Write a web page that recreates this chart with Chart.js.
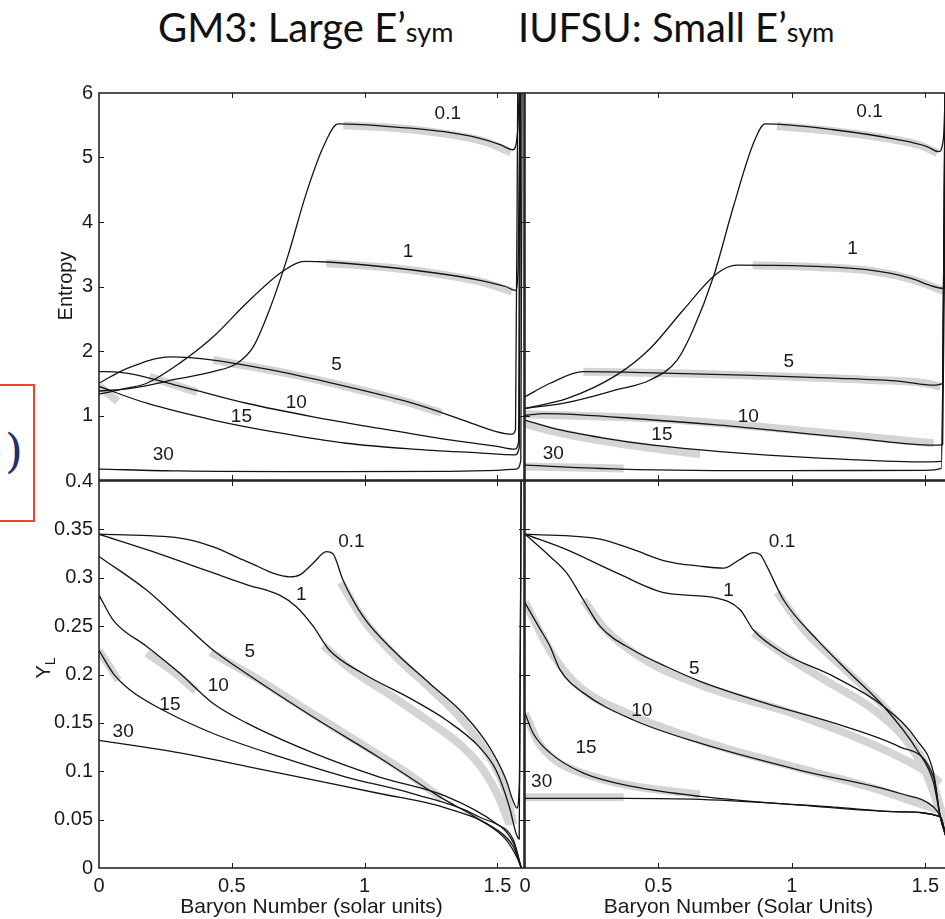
<!DOCTYPE html>
<html>
<head>
<meta charset="utf-8">
<script src="https://cdn.jsdelivr.net/npm/chart.js@4.4.1/dist/chart.umd.min.js"></script>
<style>
  body { margin: 0; width: 945px; height: 919px; overflow: hidden; background: #fff; position: relative; }
  canvas { position: absolute; }
  .title { position: absolute; top: 7px; font-family: Lato, "Open Sans", sans-serif; font-size: 40px; line-height: 40px; color: #111; white-space: nowrap; }
  .title .sub { font-size: 27px; }
  #eqbox { position: absolute; left: -10px; top: 384px; width: 41px; height: 134px; border: 2px solid #f0452b; overflow: hidden; }
  #eqbox span { position: absolute; top: 42px; font-family: "DejaVu Serif", serif; font-size: 46px; line-height: 46px; color: #23306e; }
</style>
</head>
<body>
<div class="title" style="left:158px">GM3: Large E’<span class="sub">sym</span></div>
<div class="title" style="left:518px">IUFSU: Small E’<span class="sub">sym</span></div>
<div id="eqbox"><span style="left:-17px">e</span><span style="left:13px">)</span></div>

<canvas id="gm3Entropy"></canvas>
<canvas id="iufsuEntropy"></canvas>
<canvas id="gm3Yl"></canvas>
<canvas id="iufsuYl"></canvas>

<script>
// 曲線標籤 (熵值)
const tempLabels = ['0.1', '1', '5', '10', '15', '30'];
const massTicks = [0, 0.5, 1, 1.5];
const entropyTicks = [1, 2, 3, 4, 5, 6];
const ylTicks = [0, 0.05, 0.1, 0.15, 0.2, 0.25, 0.3, 0.35, 0.4];

// GM3 entropy
const gm3S01 = [[0,1.38],[0.12,1.42],[0.3,1.57],[0.43,1.68],[0.52,1.81],[0.58,2.06],[0.64,2.62],[0.71,3.46],[0.78,4.44],[0.845,5.17],[0.9,5.52],[1.06,5.49],[1.3,5.40],[1.43,5.30],[1.51,5.20],[1.558,5.12],[1.576,5.4],[1.585,6.5]];
const gm3S1 = [[0,1.33],[0.1,1.42],[0.18,1.5],[0.3,1.8],[0.43,2.22],[0.555,2.74],[0.68,3.2],[0.75,3.37],[0.78,3.39],[0.86,3.38],[1.06,3.31],[1.3,3.19],[1.43,3.10],[1.53,3.0],[1.568,2.94],[1.578,3.3],[1.586,6.5]];
const gm3S5 = [[0,1.50],[0.1,1.72],[0.27,1.91],[0.43,1.86],[0.68,1.68],[0.93,1.45],[1.18,1.19],[1.37,0.93],[1.495,0.75],[1.555,0.71],[1.568,0.78],[1.577,6.5]];
const gm3S10 = [[0,1.68],[0.08,1.67],[0.3,1.46],[0.555,1.19],[0.806,0.98],[1.056,0.80],[1.307,0.63],[1.5,0.52],[1.565,0.48],[1.58,0.6],[1.584,6.5]];
const gm3S15 = [[0,1.45],[0.18,1.19],[0.43,0.93],[0.68,0.73],[0.93,0.57],[1.18,0.48],[1.43,0.42],[1.565,0.39],[1.582,0.5],[1.588,6.5]];
const gm3S30 = [[0,0.17],[0.3,0.14],[0.8,0.13],[1.3,0.135],[1.5,0.15],[1.57,0.17],[1.588,0.3],[1.593,6.5]];
const gm3SFit01 = [[0.92,5.50],[1.1,5.46],[1.3,5.37],[1.45,5.25],[1.55,5.08]];
const gm3SFit1 = [[0.855,3.36],[1.1,3.29],[1.3,3.18],[1.45,3.06],[1.555,2.92]];
const gm3SFit5 = [[0.43,1.86],[0.7,1.66],[0.95,1.43],[1.15,1.22],[1.29,1.04]];
const gm3SFit10 = [[0.19,1.60],[0.37,1.36]];
const gm3SFit15 = [[0,1.46],[0.07,1.22]];
const gm3SLabelAt = [[1.313,5.68],[1.163,3.54],[0.894,1.78],[0.743,1.19],[0.536,0.98],[0.242,0.39]];

// IUFSU entropy
const iuS01 = [[0,1.11],[0.156,1.2],[0.344,1.40],[0.469,1.55],[0.57,1.86],[0.63,2.33],[0.706,3.15],[0.781,4.24],[0.856,5.22],[0.9,5.52],[1.156,5.43],[1.406,5.27],[1.506,5.17],[1.55,5.09],[1.568,5.3],[1.578,6.5]];
const iuS1 = [[0,1.11],[0.156,1.26],[0.344,1.63],[0.469,2.04],[0.594,2.64],[0.719,3.2],[0.794,3.33],[1.031,3.32],[1.281,3.26],[1.444,3.13],[1.531,3.0],[1.568,2.97],[1.576,3.2],[1.582,6.5]];
const iuS5 = [[0,1.29],[0.094,1.5],[0.219,1.68],[0.406,1.67],[0.781,1.63],[1.156,1.58],[1.406,1.53],[1.531,1.47],[1.565,1.5],[1.575,6.5]];
const iuS10 = [[0,1.0],[0.07,1.03],[0.48,0.93],[0.73,0.85],[0.98,0.75],[1.25,0.64],[1.531,0.54],[1.565,0.55],[1.578,6.5]];
const iuS15 = [[0,0.93],[0.106,0.80],[0.294,0.65],[0.48,0.54],[0.731,0.44],[1.106,0.34],[1.481,0.28],[1.56,0.29],[1.575,6.5]];
const iuS30 = [[0,0.23],[0.356,0.17],[0.98,0.145],[1.5,0.15],[1.56,0.18],[1.575,6.5]];
const iuSFit01 = [[0.944,5.49],[1.15,5.41],[1.35,5.30],[1.48,5.19],[1.545,5.07]];
const iuSFit1 = [[0.853,3.33],[1.1,3.30],[1.3,3.24],[1.45,3.11],[1.57,2.93]];
const iuSFit5 = [[0.219,1.68],[0.6,1.65],[1.0,1.60],[1.3,1.55],[1.5,1.50],[1.556,1.45]];
const iuSFit10 = [[0,1.02],[0.5,0.95],[1.0,0.78],[1.531,0.57]];
const iuSFit15 = [[0,0.87],[0.1,0.76],[0.3,0.60],[0.5,0.48],[0.656,0.40]];
const iuSFit30 = [[0,0.21],[0.37,0.18]];
const iuSLabelAt = [[1.291,5.71],[1.227,3.59],[0.988,1.83],[0.837,0.98],[0.513,0.70],[0.106,0.41]];

// GM3 Y_L
const gm3Y01 = [[0,0.345],[0.305,0.341],[0.43,0.332],[0.555,0.317],[0.718,0.301],[0.756,0.303],[0.806,0.315],[0.856,0.327],[0.88,0.325],[0.918,0.298],[0.994,0.260],[1.119,0.222],[1.244,0.191],[1.37,0.160],[1.47,0.125],[1.533,0.091],[1.558,0.070],[1.573,0.062],[1.583,0.09],[1.59,0.45]];
const gm3Y1 = [[0,0.345],[0.18,0.329],[0.43,0.305],[0.555,0.293],[0.68,0.282],[0.743,0.270],[0.806,0.250],[0.868,0.225],[0.994,0.201],[1.18,0.174],[1.307,0.153],[1.432,0.125],[1.495,0.101],[1.545,0.063],[1.57,0.036],[1.582,0.03],[1.59,0.45]];
const gm3Y5 = [[0,0.322],[0.18,0.287],[0.305,0.256],[0.43,0.225],[0.555,0.201],[0.806,0.156],[1.056,0.114],[1.28,0.074],[1.432,0.050],[1.533,0.029],[1.575,0.010],[1.59,0]];
const gm3Y10 = [[0,0.282],[0.054,0.256],[0.18,0.229],[0.305,0.201],[0.43,0.170],[0.555,0.150],[0.806,0.119],[1.056,0.094],[1.307,0.074],[1.495,0.046],[1.56,0.029],[1.59,0]];
const gm3Y15 = [[0,0.225],[0.054,0.201],[0.117,0.184],[0.242,0.163],[0.43,0.139],[0.68,0.115],[0.93,0.094],[1.18,0.077],[1.43,0.053],[1.56,0.026],[1.59,0]];
const gm3Y30 = [[0,0.132],[0.305,0.119],[0.555,0.105],[0.806,0.091],[1.056,0.077],[1.307,0.062],[1.495,0.040],[1.56,0.022],[1.59,0]];
const gm3YFit01 = [[0.91,0.295],[1.0,0.255],[1.12,0.218],[1.25,0.185],[1.37,0.152],[1.47,0.115],[1.53,0.08],[1.56,0.045]];
const gm3YFit1 = [[0.845,0.230],[0.95,0.205],[1.1,0.178],[1.25,0.150],[1.37,0.125],[1.45,0.10],[1.51,0.07],[1.545,0.045]];
const gm3YFit5 = [[0.42,0.223],[0.6,0.195],[0.8,0.160],[1.0,0.126],[1.15,0.100],[1.29,0.072]];
const gm3YFit10 = [[0.18,0.222],[0.27,0.205],[0.365,0.183]];
const gm3YFit15 = [[0,0.225],[0.073,0.194]];
const gm3YLabelAt = [[0.95,0.337],[0.762,0.282],[0.568,0.224],[0.449,0.188],[0.267,0.169],[0.091,0.141]];

// IUFSU Y_L
const iuY01 = [[0,0.345],[0.281,0.340],[0.406,0.329],[0.531,0.317],[0.656,0.312],[0.744,0.310],[0.806,0.319],[0.856,0.326],[0.881,0.324],[0.906,0.312],[0.969,0.277],[1.094,0.236],[1.219,0.201],[1.344,0.167],[1.469,0.122],[1.531,0.088],[1.556,0.053],[1.58,0.03]];
const iuY1 = [[0,0.345],[0.156,0.329],[0.344,0.305],[0.531,0.284],[0.719,0.279],[0.806,0.267],[0.856,0.246],[0.969,0.222],[1.156,0.198],[1.344,0.167],[1.469,0.132],[1.531,0.098],[1.556,0.053],[1.58,0.03]];
const iuY5 = [[0,0.345],[0.094,0.322],[0.156,0.305],[0.219,0.277],[0.281,0.250],[0.406,0.225],[0.531,0.208],[0.656,0.193],[0.906,0.170],[1.156,0.150],[1.406,0.125],[1.531,0.094],[1.556,0.053],[1.58,0.03]];
const iuY10 = [[0,0.274],[0.05,0.25],[0.094,0.229],[0.131,0.205],[0.219,0.181],[0.406,0.153],[0.656,0.129],[1.031,0.101],[1.406,0.077],[1.531,0.063],[1.556,0.053],[1.58,0.03]];
const iuY15 = [[0,0.160],[0.031,0.139],[0.094,0.119],[0.219,0.098],[0.406,0.084],[0.656,0.074],[1.031,0.065],[1.406,0.058],[1.556,0.053],[1.58,0.03]];
const iuY30 = [[0,0.072],[0.37,0.072],[0.656,0.071],[1.156,0.063],[1.406,0.058],[1.556,0.053],[1.58,0.03]];
const iuYFit01 = [[0.944,0.285],[1.05,0.245],[1.2,0.205],[1.35,0.165],[1.45,0.13],[1.52,0.095],[1.575,0.045]];
const iuYFit1 = [[0.856,0.243],[1.0,0.215],[1.15,0.19],[1.3,0.165],[1.42,0.135],[1.5,0.10],[1.56,0.055]];
const iuYFit5 = [[0.219,0.277],[0.3,0.247],[0.45,0.215],[0.7,0.185],[1.0,0.160],[1.3,0.128],[1.5,0.100],[1.556,0.088]];
const iuYFit10 = [[0,0.275],[0.1,0.222],[0.2,0.188],[0.4,0.158],[0.7,0.128],[1.0,0.105],[1.3,0.083],[1.544,0.06]];
const iuYFit15 = [[0,0.16],[0.05,0.13],[0.12,0.11],[0.25,0.095],[0.4,0.085],[0.656,0.076]];
const iuYFit30 = [[0,0.073],[0.37,0.073]];
const iuYLabelAt = [[0.963,0.337],[0.763,0.287],[0.634,0.206],[0.4375,0.163],[0.229,0.124],[0.0625,0.089]];

const FONT = '"Liberation Sans", Arial, Helvetica, sans-serif';
const PAD_L = 70, PAD_R = 30, PAD_T = 24, PAD_B = 52;
const notes = {};

// 外框與向內刻度
const framePlugin = {
  id: 'frame',
  afterDatasetsDraw(chart) {
    const { ctx, chartArea: a, scales: { x, y } } = chart;
    const t = 5;
    ctx.save();
    ctx.strokeStyle = '#1a1a1a';
    ctx.lineWidth = 1.5;
    ctx.strokeRect(a.left, a.top, a.right - a.left, a.bottom - a.top);
    ctx.lineWidth = 1;
    ctx.beginPath();
    x.ticks.forEach(tk => {
      const px = Math.round(x.getPixelForValue(tk.value)) + 0.5;
      if (px <= a.left + 1 || px >= a.right - 1) return;
      ctx.moveTo(px, a.bottom); ctx.lineTo(px, a.bottom - t);
      ctx.moveTo(px, a.top); ctx.lineTo(px, a.top + t);
    });
    y.ticks.forEach(tk => {
      const py = Math.round(y.getPixelForValue(tk.value)) + 0.5;
      if (py <= a.top + 1 || py >= a.bottom - 1) return;
      ctx.moveTo(a.left, py); ctx.lineTo(a.left + t, py);
      ctx.moveTo(a.right, py); ctx.lineTo(a.right - t, py);
    });
    ctx.stroke();
    ctx.restore();
  }
};

// 曲線標籤與軸標題
const annotPlugin = {
  id: 'annot',
  afterDraw(chart) {
    const n = notes[chart.canvas.id];
    const { ctx, chartArea: a, scales: { x, y } } = chart;
    ctx.save();
    ctx.fillStyle = '#1a1a1a';
    ctx.font = '19px ' + FONT;
    ctx.textAlign = 'center';
    ctx.textBaseline = 'middle';
    n.at.forEach(([vx, vy], i) => {
      ctx.fillText(tempLabels[i], x.getPixelForValue(vx), y.getPixelForValue(vy));
    });
    if (n.xTitle) {
      ctx.font = '21px ' + FONT;
      ctx.fillText(n.xTitle, (a.left + a.right) / 2, a.bottom + 39);
    }
    if (n.yTitle) {
      ctx.translate(n.yTitleX - chart.canvas.offsetLeft, n.yTitleY - chart.canvas.offsetTop);
      ctx.rotate(-Math.PI / 2);
      ctx.textBaseline = 'alphabetic';
      ctx.font = '20px ' + FONT;
      if (n.ySub) {
        const w1 = ctx.measureText(n.yTitle).width;
        ctx.font = '14px ' + FONT;
        const w2 = ctx.measureText(n.ySub).width;
        ctx.textAlign = 'left';
        ctx.font = '20px ' + FONT;
        ctx.fillText(n.yTitle, -(w1 + w2) / 2, 0);
        ctx.font = '14px ' + FONT;
        ctx.fillText(n.ySub, -(w1 + w2) / 2 + w1, 5);
      } else {
        ctx.fillText(n.yTitle, 0, 0);
      }
    }
    ctx.restore();
  }
};

function lineSet(points, fit) {
  return {
    data: points.map(([x, y]) => ({ x, y })),
    borderColor: fit ? '#d3d4d6' : '#141414',
    borderWidth: fit ? 8 : 1.3,
    borderCapStyle: 'butt',
    pointRadius: 0,
    cubicInterpolationMode: 'monotone',
    order: fit ? 1 : 0,
    clip: 0
  };
}

function makePanel(id, box, yMax, yTicks, showX, showY, curves, fits) {
  const cv = document.getElementById(id);
  cv.width = box.w + PAD_L + PAD_R;
  cv.height = box.h + PAD_T + PAD_B;
  cv.style.left = (box.left - PAD_L) + 'px';
  cv.style.top = (box.top - PAD_T) + 'px';
  const tickFont = { family: FONT, size: 20 };
  return new Chart(cv, {
    type: 'line',
    data: { datasets: curves.map(c => lineSet(c, false)).concat(fits.map(f => lineSet(f, true))) },
    options: {
      responsive: false,
      animation: false,
      devicePixelRatio: 1,
      events: [],
      layout: { padding: { top: PAD_T, right: PAD_R, left: 0, bottom: 0 } },
      plugins: { legend: { display: false }, tooltip: { enabled: false } },
      scales: {
        x: {
          type: 'linear', min: 0, max: 1.6,
          grid: { display: false, drawTicks: false }, border: { display: false },
          afterBuildTicks: s => { s.ticks = massTicks.map(v => ({ value: v })); },
          afterFit: s => { s.height = PAD_B; },
          ticks: { display: showX, font: tickFont, color: '#1a1a1a', padding: 6, maxRotation: 0, callback: v => String(v) }
        },
        y: {
          type: 'linear', min: 0, max: yMax,
          grid: { display: false, drawTicks: false }, border: { display: false },
          afterBuildTicks: s => { s.ticks = yTicks.map(v => ({ value: v })); },
          afterFit: s => { s.width = PAD_L; },
          ticks: { display: showY, font: tickFont, color: '#1a1a1a', padding: 6, callback: v => String(v) }
        }
      }
    },
    plugins: [framePlugin, annotPlugin]
  });
}

notes.gm3Entropy = { at: gm3SLabelAt, yTitle: 'Entropy', yTitleX: 72, yTitleY: 286 };
notes.iufsuEntropy = { at: iuSLabelAt };
notes.gm3Yl = { at: gm3YLabelAt, yTitle: 'Y', ySub: 'L', yTitleX: 50, yTitleY: 668, xTitle: 'Baryon Number (solar units)' };
notes.iufsuYl = { at: iuYLabelAt, xTitle: 'Baryon Number (Solar Units)' };

makePanel('gm3Entropy', { left: 99, top: 93, w: 425, h: 387 }, 6, entropyTicks, false, true,
  [gm3S01, gm3S1, gm3S5, gm3S10, gm3S15, gm3S30], [gm3SFit01, gm3SFit1, gm3SFit5, gm3SFit10, gm3SFit15]);
makePanel('iufsuEntropy', { left: 525, top: 93, w: 427, h: 387 }, 6, entropyTicks, false, false,
  [iuS01, iuS1, iuS5, iuS10, iuS15, iuS30], [iuSFit01, iuSFit1, iuSFit5, iuSFit10, iuSFit15, iuSFit30]);
makePanel('gm3Yl', { left: 99, top: 481, w: 425, h: 387 }, 0.4, ylTicks, true, true,
  [gm3Y01, gm3Y1, gm3Y5, gm3Y10, gm3Y15, gm3Y30], [gm3YFit01, gm3YFit1, gm3YFit5, gm3YFit10, gm3YFit15]);
makePanel('iufsuYl', { left: 525, top: 481, w: 427, h: 387 }, 0.4, ylTicks, true, false,
  [iuY01, iuY1, iuY5, iuY10, iuY15, iuY30], [iuYFit01, iuYFit1, iuYFit5, iuYFit10, iuYFit15, iuYFit30]);
</script>
</body>
</html>
